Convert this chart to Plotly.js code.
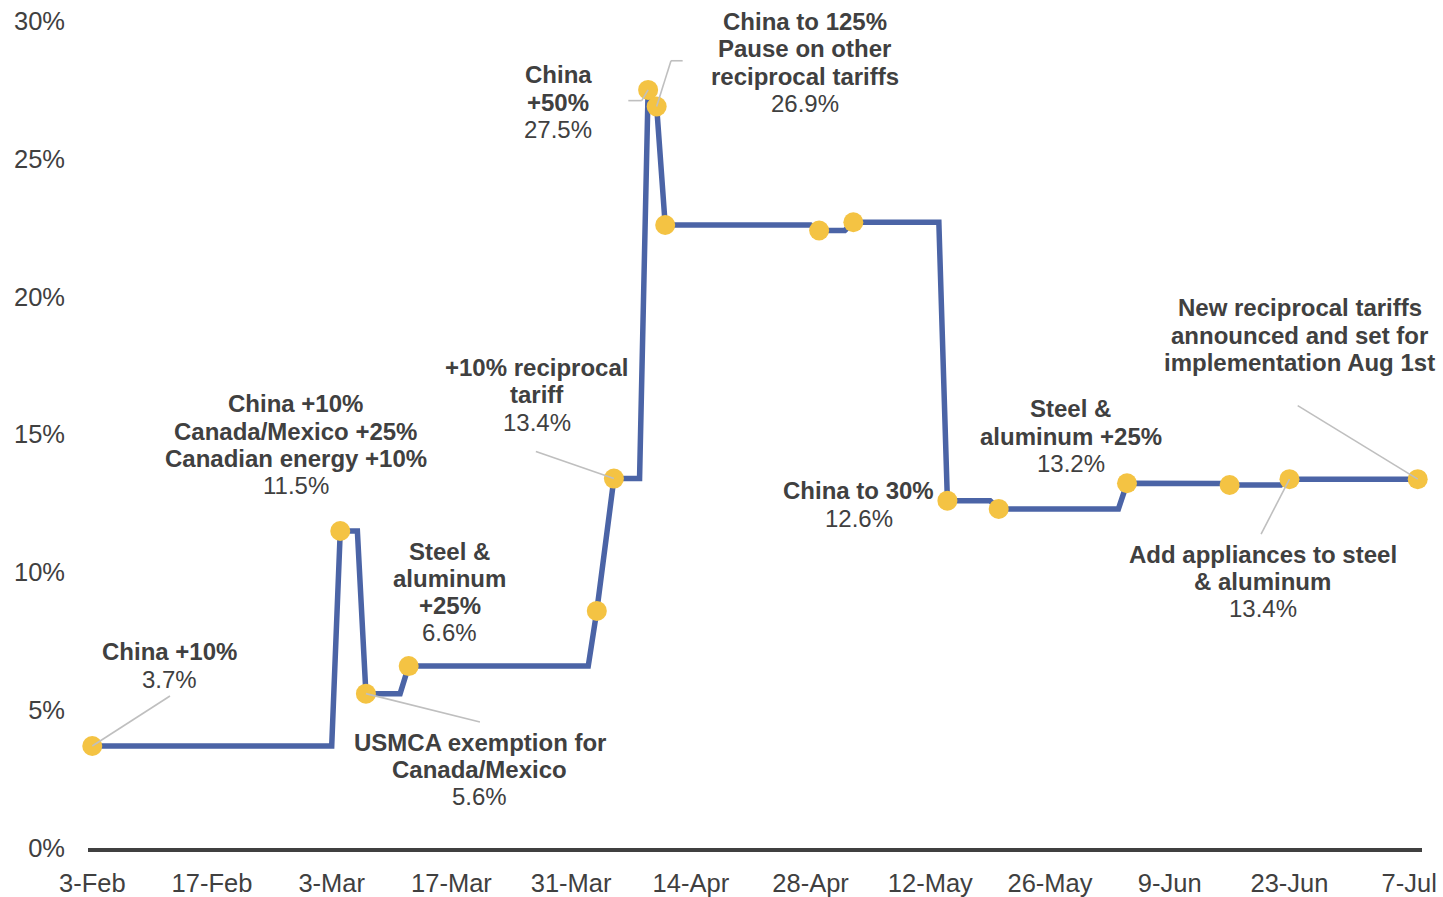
<!DOCTYPE html>
<html>
<head>
<meta charset="utf-8">
<script src="https://cdn.plot.ly/plotly-3.0.1.min.js"></script>
<style>
  html, body { margin: 0; padding: 0; background: #ffffff; }
  #chart { width: 1443px; height: 897px; }
</style>
</head>
<body>
<div id="chart"></div>
<script>
// ---------- DATA ----------
// Effective tariff rate line (vertices of the daily series where it changes)
const lineDates = [
  '2025-02-03','2025-03-03','2025-03-04','2025-03-06','2025-03-07','2025-03-11',
  '2025-03-12','2025-04-02','2025-04-03','2025-04-05','2025-04-08','2025-04-09',
  '2025-04-10','2025-04-11','2025-04-28','2025-04-29','2025-05-02','2025-05-03',
  '2025-05-13','2025-05-14','2025-05-19','2025-05-20','2025-06-03','2025-06-04',
  '2025-06-15','2025-06-16','2025-06-22','2025-06-23','2025-07-08'
];
const lineValues = [
  3.7, 3.7, 11.5, 11.5, 5.6, 5.6,
  6.6, 6.6, 8.6, 13.4, 13.4, 27.5,
  26.9, 22.6, 22.6, 22.4, 22.4, 22.7,
  22.7, 12.6, 12.6, 12.3, 12.3, 13.23,
  13.22, 13.17, 13.17, 13.38, 13.38
];

// Policy events (yellow markers)
const eventDates = [
  '2025-02-03','2025-03-04','2025-03-07','2025-03-12','2025-04-03','2025-04-05',
  '2025-04-09','2025-04-10','2025-04-11','2025-04-29','2025-05-03','2025-05-14',
  '2025-05-20','2025-06-04','2025-06-16','2025-06-23','2025-07-08'
];
const eventValues = [
  3.7, 11.5, 5.6, 6.6, 8.6, 13.4,
  27.5, 26.9, 22.6, 22.4, 22.7, 12.6,
  12.3, 13.23, 13.17, 13.38, 13.38
];
const eventTitles = [
  ['China +10%'],
  ['China +10%', 'Canada/Mexico +25%', 'Canadian energy +10%'],
  ['USMCA exemption for', 'Canada/Mexico'],
  ['Steel &', 'aluminum', '+25%'],
  [],
  ['+10% reciprocal', 'tariff'],
  ['China', '+50%'],
  ['China to 125%', 'Pause on other', 'reciprocal tariffs'],
  [], [], [],
  ['China to 30%'],
  [],
  ['Steel &', 'aluminum +25%'],
  [],
  ['Add appliances to steel', '& aluminum'],
  ['New reciprocal tariffs', 'announced and set for', 'implementation Aug 1st']
];
const eventValueText = [
  '3.7%', '11.5%', '5.6%', '6.6%', '', '13.4%',
  '27.5%', '26.9%', '', '', '', '12.6%',
  '', '13.2%', '', '13.4%', ''
];

// Axis ticks
const tickDates = ['2025-02-03','2025-02-17','2025-03-03','2025-03-17','2025-03-31','2025-04-14',
                   '2025-04-28','2025-05-12','2025-05-26','2025-06-09','2025-06-23','2025-07-07'];
const tickLabels = ['3-Feb','17-Feb','3-Mar','17-Mar','31-Mar','14-Apr',
                    '28-Apr','12-May','26-May','9-Jun','23-Jun','7-Jul'];
const yTicks = [0, 5, 10, 15, 20, 25, 30];
const yTickLabels = ['0%', '5%', '10%', '15%', '20%', '25%', '30%'];

// ---------- LAYOUT OF LABELS (pixel offsets from marker; down = positive) ----------
const labelPlace = {
  0:  {dx: 77.7,  dy: -94.3},
  1:  {dx: -44.5, dy: -127},
  2:  {dx: 114,   dy: 48.4},
  3:  {dx: 41.3,  dy: -115},
  5:  {dx: -77,   dy: -111},
  6:  {dx: -90,   dy: -15},
  7:  {dx: 148.3, dy: -85},
  11: {dx: -88.5, dy: -9.7},
  13: {dx: -56.3, dy: -74.3},
  15: {dx: -26.7, dy: 75},
  16: {dx: -118,  dy: -171.3}
};
const leaderPaths = {
  0:  [[0,0],[77.7,-50]],
  2:  [[0,0],[114,28.4]],
  5:  [[0,0],[-78,-27]],
  6:  [[0,0],[-6.4,10.7],[-19.8,10.7]],
  7:  [[0,0],[14.3,-45.7],[26,-45.7]],
  15: [[0,0],[-28.4,55]],
  16: [[0,0],[-120,-73.6]]
};
const LINE_STEP = 27.3;
const TEXT_COLOR = '#404040';
const FONT = 'Liberation Sans, Arial, sans-serif';

const annotations = [];
Object.keys(labelPlace).forEach(function (k) {
  const i = +k;
  const p = labelPlace[i];
  const lines = eventTitles[i].map(function (t) { return {t: t, bold: true}; });
  if (eventValueText[i]) lines.push({t: eventValueText[i], bold: false});
  lines.forEach(function (ln, j) {
    annotations.push({
      x: eventDates[i], y: eventValues[i], xref: 'x', yref: 'y',
      text: ln.bold ? '<b>' + ln.t + '</b>' : ln.t,
      showarrow: false, xanchor: 'center', yanchor: 'middle',
      xshift: p.dx, yshift: -(p.dy + j * LINE_STEP),
      font: {family: FONT, size: 24, color: TEXT_COLOR}
    });
  });
});

const shapes = [];
Object.keys(leaderPaths).forEach(function (k) {
  const i = +k;
  const pts = leaderPaths[i];
  for (let s = 0; s < pts.length - 1; s++) {
    shapes.push({
      type: 'line', xref: 'x', yref: 'y',
      xsizemode: 'pixel', ysizemode: 'pixel',
      xanchor: eventDates[i], yanchor: eventValues[i],
      x0: pts[s][0], y0: -pts[s][1], x1: pts[s + 1][0], y1: -pts[s + 1][1],
      line: {color: '#bfbfbf', width: 1.6},
      layer: 'above'
    });
  }
});

const traces = [
  {
    x: lineDates, y: lineValues, type: 'scatter', mode: 'lines',
    line: {color: '#4B64A6', width: 5.5},
    hoverinfo: 'skip'
  },
  {
    x: eventDates, y: eventValues, type: 'scatter', mode: 'markers',
    marker: {color: '#F4C343', size: 20, line: {width: 0}},
    cliponaxis: false,
    hoverinfo: 'skip'
  }
];

const layout = {
  width: 1443, height: 897,
  margin: {l: 88, r: 21, t: 21, b: 49, pad: 0},
  paper_bgcolor: '#ffffff', plot_bgcolor: '#ffffff',
  showlegend: false,
  hovermode: false,
  font: {family: FONT, color: TEXT_COLOR},
  xaxis: {
    type: 'date',
    range: ['2025-02-02 12:00', '2025-07-08 12:00'],
    tickmode: 'array', tickvals: tickDates, ticktext: tickLabels,
    showgrid: false, zeroline: false,
    showline: true, linecolor: '#404040', linewidth: 3.5,
    ticks: '', ticklabelstandoff: 10,
    tickfont: {family: FONT, size: 25.5, color: TEXT_COLOR}
  },
  yaxis: {
    range: [0, 30],
    tickmode: 'array', tickvals: yTicks, ticktext: yTickLabels,
    showgrid: false, zeroline: false, showline: false,
    ticks: '', ticklabelstandoff: 22,
    tickfont: {family: FONT, size: 25.5, color: TEXT_COLOR}
  },
  annotations: annotations,
  shapes: shapes
};

Plotly.newPlot('chart', traces, layout, {displayModeBar: false, staticPlot: true});
</script>
</body>
</html>
